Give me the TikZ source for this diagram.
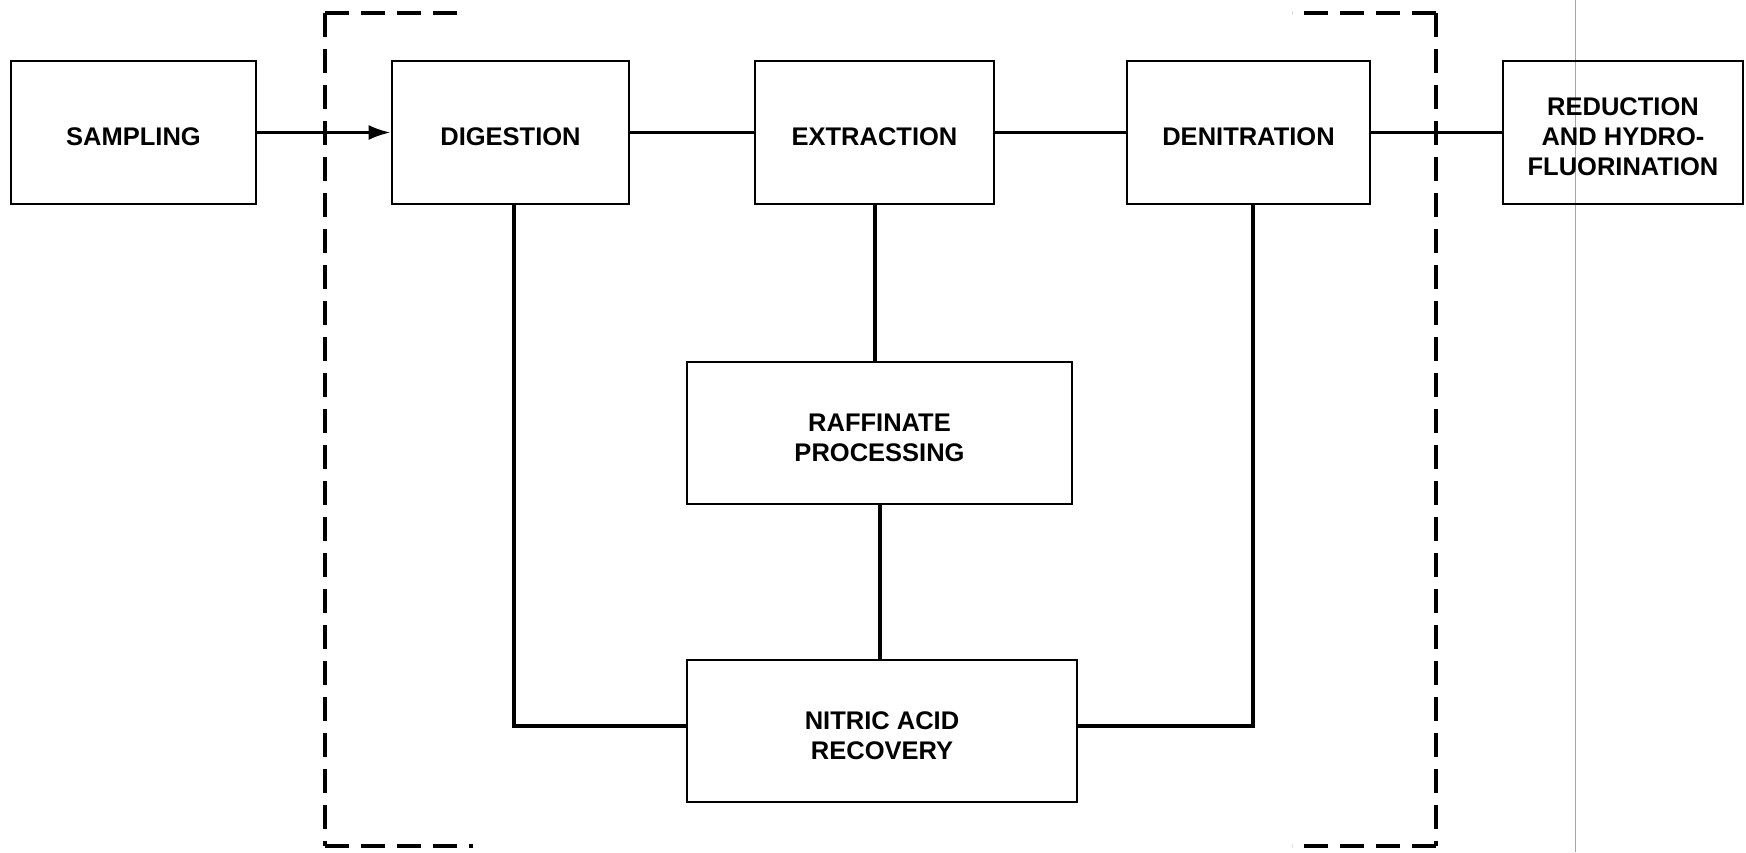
\documentclass[tikz,border=0pt]{standalone}
\usepackage{fontspec}
\setmainfont{Liberation Sans}
\usetikzlibrary{arrows.meta,calc}
\newcommand\dnstrut{\rule{0pt}{27pt}}
\begin{document}
\begin{tikzpicture}[x=1pt,y=-1pt,
  blk/.style={draw,line width=2.8pt,inner sep=0pt,align=center,
    font=\fontsize{25.5}{30}\selectfont\bfseries,minimum height=143pt},
  conn/.style={line width=3pt},
  vconn/.style={line width=4pt},
  frame/.style={line width=3.5pt,dash pattern=on 24pt off 12pt},
  fold/.style={line width=0.7pt,gray!70}]
\fill[white] (0,0) rectangle (1746,852);
\useasboundingbox (0,0) rectangle (1746,852);
% fold line of the scan
\draw[fold] (1575,0) -- (1575,852);
% process boxes
\node[blk,minimum width=245pt] (samp) at (133.5,132.5) {\dnstrut SAMPLING};
\node[blk,minimum width=237pt] (dig) at (510.5,132.5) {\dnstrut DIGESTION};
\node[blk,minimum width=239pt] (ext) at (874.5,132.5) {\dnstrut EXTRACTION};
\node[blk,minimum width=243pt] (den) at (1248.5,132.5) {\dnstrut DENITRATION};
\node[blk,minimum width=240pt] (red) at (1623,132.5) {\dnstrut REDUCTION\\AND HYDRO-\\FLUORINATION};
\node[blk,minimum width=385pt,minimum height=142pt] (raf) at (879.5,433) {\dnstrut RAFFINATE\\PROCESSING};
\node[blk,minimum width=390pt,minimum height=142pt] (nit) at (882,731) {\dnstrut NITRIC ACID\\RECOVERY};
% dashed boundary
\coordinate (tl) at (325,13);
\coordinate (bl) at (325,846);
\coordinate (tr) at (1436,13);
\coordinate (br) at (1436,846);
\draw[frame] (tl) -- ++(143,0);
\draw[frame] (tl) -- (bl);
\draw[frame] (bl) -- ++(148,0);
\draw[frame] (tr) -- ++(-144,0);
\draw[frame] (tr) -- (br);
\draw[frame] (br) -- ++(-144,0);
% connectors
\draw[conn,-{Latex[length=22pt,width=15pt]}] (samp.east) -- (dig.west);
\draw[conn] (dig.east) -- (ext.west);
\draw[conn] (ext.east) -- (den.west);
\draw[conn] (den.east) -- (red.west);
\draw[vconn] (ext.south) -- (ext.south |- raf.north);
\draw[vconn] (raf.south) -- (raf.south |- nit.north);
\draw[vconn] ($(dig.south)+(3,0)$) |- ($(nit.west)+(0,-5)$);
\draw[vconn] ($(den.south)+(4,0)$) |- ($(nit.east)+(0,-5)$);
\end{tikzpicture}
\end{document}
